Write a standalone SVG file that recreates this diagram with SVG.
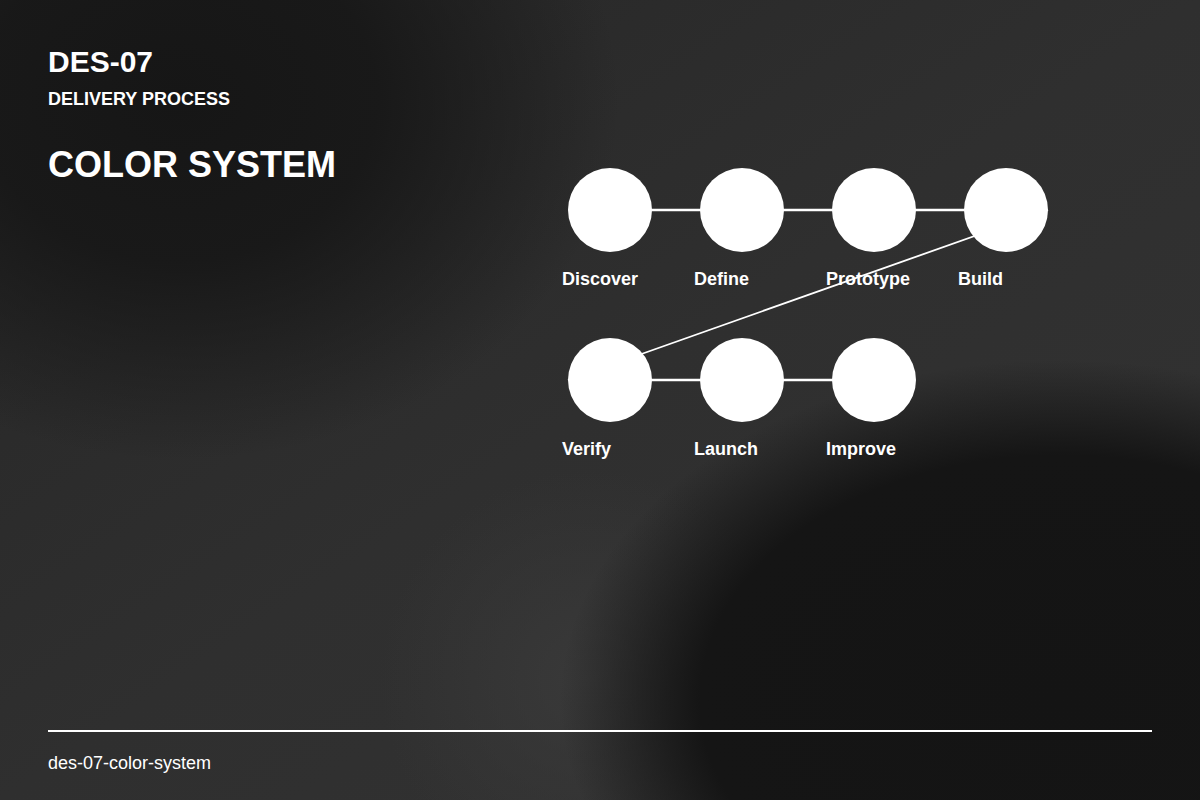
<svg xmlns="http://www.w3.org/2000/svg" width="1200" height="800" viewBox="0 0 1200 800">
  <defs>
    <linearGradient id="bg" x1="0" y1="0" x2="1" y2="1">
      <stop offset="0" stop-color="#262626"/>
      <stop offset="0.5" stop-color="#2f2f2f"/>
      <stop offset="1" stop-color="#333333"/>
    </linearGradient>
    <radialGradient id="darkTL" cx="0.5" cy="0.5" r="0.5">
      <stop offset="0" stop-color="#161616" stop-opacity="1"/>
      <stop offset="0.45" stop-color="#171717" stop-opacity="0.9"/>
      <stop offset="1" stop-color="#171717" stop-opacity="0"/>
    </radialGradient>
    <radialGradient id="darkBR" cx="0.5" cy="0.5" r="0.5">
      <stop offset="0" stop-color="#141414" stop-opacity="1"/>
      <stop offset="0.72" stop-color="#151515" stop-opacity="1"/>
      <stop offset="1" stop-color="#151515" stop-opacity="0"/>
    </radialGradient>
    <radialGradient id="light" cx="0.5" cy="0.5" r="0.5">
      <stop offset="0" stop-color="#3a3a3a" stop-opacity="0.9"/>
      <stop offset="1" stop-color="#3a3a3a" stop-opacity="0"/>
    </radialGradient>
  </defs>
  <style>
    .node { fill: #ffffff; }
    .lbl { font-family: "Liberation Sans", Arial, sans-serif; font-weight: bold; font-size: 18px; fill: #ffffff; }
    .conn { stroke: #ffffff; stroke-width: 2.5; fill: none; }
    .diag { stroke: #ffffff; stroke-width: 1.8; fill: none; }
    .title { font-family: "Liberation Sans", Arial, sans-serif; font-weight: bold; fill: #ffffff; }
  </style>
  <rect width="1200" height="800" fill="url(#bg)"/>
  <g id="background">
    <rect x="-260" y="-260" width="880" height="720" fill="url(#darkTL)"/>
    <rect x="380" y="470" width="420" height="420" fill="url(#light)"/>
    <rect x="560" y="360" width="1000" height="680" fill="url(#darkBR)"/>
  </g>

  <g id="header">
    <text class="title" x="48" y="72" font-size="30">DES-07</text>
    <text class="title" x="48" y="105" font-size="18">DELIVERY PROCESS</text>
    <text class="title" x="48" y="177" font-size="36">COLOR SYSTEM</text>
  </g>

  <g id="connectors">
    <line class="conn" x1="610" y1="210" x2="1006" y2="210"/>
    <line class="conn" x1="610" y1="380" x2="874" y2="380"/>
    <line class="diag" x1="1048" y1="210" x2="568" y2="380"/>
  </g>

  <g id="node-discover"><circle class="node" cx="610" cy="210" r="42"/><text class="lbl" x="562" y="285">Discover</text></g>
  <g id="node-define"><circle class="node" cx="742" cy="210" r="42"/><text class="lbl" x="694" y="285">Define</text></g>
  <g id="node-prototype"><circle class="node" cx="874" cy="210" r="42"/><text class="lbl" x="826" y="285">Prototype</text></g>
  <g id="node-build"><circle class="node" cx="1006" cy="210" r="42"/><text class="lbl" x="958" y="285">Build</text></g>
  <g id="node-verify"><circle class="node" cx="610" cy="380" r="42"/><text class="lbl" x="562" y="455">Verify</text></g>
  <g id="node-launch"><circle class="node" cx="742" cy="380" r="42"/><text class="lbl" x="694" y="455">Launch</text></g>
  <g id="node-improve"><circle class="node" cx="874" cy="380" r="42"/><text class="lbl" x="826" y="455">Improve</text></g>

  <g id="footer">
    <line x1="48" y1="731" x2="1152" y2="731" stroke="#ffffff" stroke-width="2"/>
    <text x="48" y="769" font-family="'Liberation Sans', Arial, sans-serif" font-size="18" fill="#ffffff">des-07-color-system</text>
  </g>
</svg>
